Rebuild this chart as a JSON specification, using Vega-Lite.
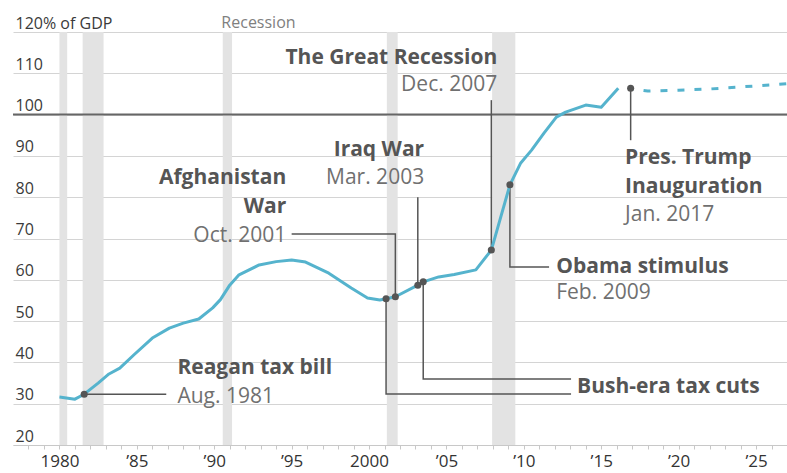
{
  "$schema": "https://vega.github.io/schema/vega-lite/v6.json",
  "width": 774,
  "height": 413,
  "autosize": {"type": "none"},
  "padding": {"left": 13, "top": 32, "right": 0, "bottom": 28},
  "background": "white",
  "config": {
    "view": {"stroke": null},
    "font": "Open Sans",
    "text": {"font": "Open Sans"}
  },
  "resolve": {"axis": {"x": "independent"}},
  "datasets": {
    "recessions": [
      {"start": 1980.0, "end": 1980.5},
      {"start": 1981.5, "end": 1982.85},
      {"start": 1990.55, "end": 1991.15},
      {"start": 2001.15, "end": 2001.85},
      {"start": 2007.95, "end": 2009.45}
    ],
    "debt": [
      {"year": 1980, "pct": 31.6}, {"year": 1981, "pct": 31.1}, {"year": 1981.6, "pct": 32.3},
      {"year": 1982.5, "pct": 35.0}, {"year": 1983.2, "pct": 37.2}, {"year": 1983.9, "pct": 38.6},
      {"year": 1984.8, "pct": 41.8}, {"year": 1986, "pct": 45.9}, {"year": 1987.1, "pct": 48.3},
      {"year": 1988, "pct": 49.5}, {"year": 1989, "pct": 50.5}, {"year": 1989.9, "pct": 53.2},
      {"year": 1990.4, "pct": 55.2}, {"year": 1991, "pct": 58.7}, {"year": 1991.6, "pct": 61.2},
      {"year": 1992.9, "pct": 63.6}, {"year": 1994, "pct": 64.4}, {"year": 1995, "pct": 64.8},
      {"year": 1995.9, "pct": 64.3}, {"year": 1997.4, "pct": 61.6}, {"year": 1998.85, "pct": 58.0},
      {"year": 1999.9, "pct": 55.6}, {"year": 2000.7, "pct": 55.1}, {"year": 2001.1, "pct": 55.4},
      {"year": 2001.7, "pct": 55.9}, {"year": 2003.15, "pct": 58.7}, {"year": 2003.5, "pct": 59.5},
      {"year": 2004.5, "pct": 60.7}, {"year": 2005.5, "pct": 61.3}, {"year": 2006.9, "pct": 62.4},
      {"year": 2007.9, "pct": 67.2}, {"year": 2009.1, "pct": 83.0}, {"year": 2009.8, "pct": 88.3},
      {"year": 2010.5, "pct": 91.4}, {"year": 2011.3, "pct": 95.5}, {"year": 2012.1, "pct": 99.4},
      {"year": 2012.7, "pct": 100.6}, {"year": 2014, "pct": 102.3}, {"year": 2015, "pct": 101.8},
      {"year": 2016.1, "pct": 106.4}
    ],
    "projection": [
      {"year": 2016.9, "pct": 106.3}, {"year": 2018, "pct": 105.7}, {"year": 2020, "pct": 105.9},
      {"year": 2022, "pct": 106.2}, {"year": 2024, "pct": 106.7}, {"year": 2026, "pct": 107.2},
      {"year": 2027, "pct": 107.5}
    ],
    "events": [
      {"event": "Reagan", "year": 1981.6, "pct": 32.3},
      {"event": "Bush 2001", "year": 2001.1, "pct": 55.4},
      {"event": "Afghanistan", "year": 2001.7, "pct": 55.9},
      {"event": "Iraq", "year": 2003.15, "pct": 58.7},
      {"event": "Bush 2003", "year": 2003.5, "pct": 59.5},
      {"event": "Great Recession", "year": 2007.9, "pct": 67.2},
      {"event": "Obama", "year": 2009.1, "pct": 83.0},
      {"event": "Trump", "year": 2016.9, "pct": 106.4}
    ],
    "leaders": [
      {"id": "reagan", "step": 1, "year": 1981.6, "pct": 32.3},
      {"id": "reagan", "step": 2, "year": 1986.9, "pct": 32.3},
      {"id": "bush1", "step": 1, "year": 2001.1, "pct": 55.4},
      {"id": "bush1", "step": 2, "year": 2001.1, "pct": 32.35},
      {"id": "bush1", "step": 3, "year": 2013.05, "pct": 32.35},
      {"id": "bush2", "step": 1, "year": 2003.5, "pct": 59.5},
      {"id": "bush2", "step": 2, "year": 2003.5, "pct": 36.0},
      {"id": "bush2", "step": 3, "year": 2013.05, "pct": 36.0},
      {"id": "afghan", "step": 1, "year": 1995.0, "pct": 71.1},
      {"id": "afghan", "step": 2, "year": 2001.7, "pct": 71.1},
      {"id": "afghan", "step": 3, "year": 2001.7, "pct": 55.9},
      {"id": "iraq", "step": 1, "year": 2003.15, "pct": 80.0},
      {"id": "iraq", "step": 2, "year": 2003.15, "pct": 58.7},
      {"id": "gr", "step": 1, "year": 2007.9, "pct": 103.5},
      {"id": "gr", "step": 2, "year": 2007.9, "pct": 67.2},
      {"id": "trump", "step": 1, "year": 2016.9, "pct": 106.4},
      {"id": "trump", "step": 2, "year": 2016.9, "pct": 93.8},
      {"id": "obama", "step": 1, "year": 2009.1, "pct": 83.0},
      {"id": "obama", "step": 2, "year": 2009.1, "pct": 63.1},
      {"id": "obama", "step": 3, "year": 2011.63, "pct": 63.1}
    ],
    "labels": [
      {"text": "Reagan tax bill", "kind": "bold", "side": "left", "year": 1987.62, "pct": 38.6},
      {"text": "Aug. 1981", "kind": "date", "side": "left", "year": 1987.62, "pct": 31.6},
      {"text": "Bush-era tax cuts", "kind": "bold", "side": "left", "year": 2013.44, "pct": 34.0},
      {"text": "Afghanistan", "kind": "bold", "side": "right", "year": 1994.65, "pct": 84.6},
      {"text": "War", "kind": "bold", "side": "right", "year": 1994.65, "pct": 77.6},
      {"text": "Oct. 2001", "kind": "date", "side": "right", "year": 1994.65, "pct": 70.6},
      {"text": "Iraq War", "kind": "bold", "side": "right", "year": 2003.56, "pct": 91.4},
      {"text": "Mar. 2003", "kind": "date", "side": "right", "year": 2003.56, "pct": 84.6},
      {"text": "The Great Recession", "kind": "bold", "side": "right", "year": 2008.28, "pct": 113.7},
      {"text": "Dec. 2007", "kind": "date", "side": "right", "year": 2008.28, "pct": 107.2},
      {"text": "Pres. Trump", "kind": "bold", "side": "left", "year": 2016.54, "pct": 89.5},
      {"text": "Inauguration", "kind": "bold", "side": "left", "year": 2016.54, "pct": 82.5},
      {"text": "Jan. 2017", "kind": "date", "side": "left", "year": 2016.54, "pct": 75.7},
      {"text": "Obama stimulus", "kind": "bold", "side": "left", "year": 2012.09, "pct": 63.1},
      {"text": "Feb. 2009", "kind": "date", "side": "left", "year": 2012.09, "pct": 56.8}
    ],
    "legend": [
      {"text": "Recession", "year": 1990.46, "pct": 122.2}
    ]
  },
  "layer": [
    {
      "data": {"name": "recessions"},
      "mark": {"type": "rect", "color": "#e3e3e3"},
      "encoding": {
        "x": {
          "field": "start", "type": "quantitative",
          "scale": {"domain": [1977, 2027], "nice": false, "zero": false},
          "axis": {
            "orient": "bottom",
            "title": null,
            "grid": false,
            "labels": false,
            "values": [1978,1979,1980,1981,1982,1983,1984,1985,1986,1987,1988,1989,1990,1991,1992,1993,1994,1995,1996,1997,1998,1999,2000,2001,2002,2003,2004,2005,2006,2007,2008,2009,2010,2011,2012,2013,2014,2015,2016,2017,2018,2019,2020,2021,2022,2023,2024,2025,2026,2027],
            "domainColor": "#c8c8c8",
            "domainWidth": 1,
            "tickColor": "#c8c8c8",
            "tickSize": 4,
            "tickWidth": 1
          }
        },
        "x2": {"field": "end"},
        "y": {"datum": 20, "type": "quantitative",
          "scale": {"domain": [20, 120], "nice": false, "zero": false},
          "axis": {
            "title": null,
            "values": [20, 30, 40, 50, 60, 70, 80, 90, 100, 110, 120],
            "labelExpr": "datum.value == 120 ? '120% of GDP' : datum.label",
            "grid": true,
            "gridColor": "#d4d4d4",
            "gridWidth": 1,
            "domain": false,
            "ticks": false,
            "tickSize": 0,
            "labelAlign": "left",
            "labelBaseline": "alphabetic",
            "labelPadding": -2,
            "labelOffset": -4,
            "labelFont": "Open Sans",
            "labelFontSize": 16,
            "labelColor": "#3a3a3a"
          }
        },
        "y2": {"datum": 120}
      }
    },
    {
      "data": {"values": [{"pct": 100}]},
      "mark": {"type": "rule", "color": "#666666", "strokeWidth": 2},
      "encoding": {"y": {"field": "pct", "type": "quantitative"}}
    },
    {
      "data": {"name": "leaders"},
      "mark": {"type": "line", "color": "#555555", "strokeWidth": 1.5, "interpolate": "linear"},
      "encoding": {
        "x": {"field": "year", "type": "quantitative", "axis": null},
        "y": {"field": "pct", "type": "quantitative"},
        "detail": {"field": "id"},
        "order": {"field": "step", "type": "quantitative"}
      }
    },
    {
      "data": {"name": "debt"},
      "mark": {"type": "line", "color": "#55b3cd", "strokeWidth": 3, "strokeJoin": "round"},
      "encoding": {
        "x": {
          "field": "year", "type": "quantitative",
          "axis": {
            "orient": "bottom",
            "title": null,
            "grid": false,
            "domain": false,
            "ticks": false,
            "tickSize": 0,
            "values": [1980, 1985, 1990, 1995, 2000, 2005, 2010, 2015, 2020, 2025],
            "labelExpr": "(datum.value == 1980 || datum.value == 2000) ? '' + datum.value : '’' + substring('' + datum.value, 2, 4)",
            "labelOverlap": false,
            "labelFlush": false,
            "labelFont": "Open Sans",
            "labelFontSize": 17,
            "labelColor": "#333333",
            "labelPadding": 8
          }
        },
        "y": {"field": "pct", "type": "quantitative"}
      }
    },
    {
      "data": {"name": "projection"},
      "mark": {"type": "line", "color": "#55b3cd", "strokeWidth": 3, "strokeDash": [7, 10], "strokeDashOffset": 4},
      "encoding": {
        "x": {"field": "year", "type": "quantitative", "axis": null},
        "y": {"field": "pct", "type": "quantitative"}
      }
    },
    {
      "data": {"name": "events"},
      "mark": {"type": "circle", "color": "#555555", "opacity": 1, "size": 50},
      "encoding": {
        "x": {"field": "year", "type": "quantitative", "axis": null},
        "y": {"field": "pct", "type": "quantitative"}
      }
    },
    {
      "data": {"name": "labels"},
      "transform": [{"filter": "datum.side == 'left' && datum.kind == 'bold'"}],
      "mark": {"type": "text", "align": "left", "baseline": "middle", "fontSize": 21, "fontWeight": "bold", "color": "#555555"},
      "encoding": {
        "x": {"field": "year", "type": "quantitative", "axis": null},
        "y": {"field": "pct", "type": "quantitative"},
        "text": {"field": "text"}
      }
    },
    {
      "data": {"name": "labels"},
      "transform": [{"filter": "datum.side == 'right' && datum.kind == 'bold'"}],
      "mark": {"type": "text", "align": "right", "baseline": "middle", "fontSize": 21, "fontWeight": "bold", "color": "#555555"},
      "encoding": {
        "x": {"field": "year", "type": "quantitative", "axis": null},
        "y": {"field": "pct", "type": "quantitative"},
        "text": {"field": "text"}
      }
    },
    {
      "data": {"name": "labels"},
      "transform": [{"filter": "datum.side == 'left' && datum.kind == 'date'"}],
      "mark": {"type": "text", "align": "left", "baseline": "middle", "fontSize": 21, "fontWeight": "normal", "color": "#707070"},
      "encoding": {
        "x": {"field": "year", "type": "quantitative", "axis": null},
        "y": {"field": "pct", "type": "quantitative"},
        "text": {"field": "text"}
      }
    },
    {
      "data": {"name": "labels"},
      "transform": [{"filter": "datum.side == 'right' && datum.kind == 'date'"}],
      "mark": {"type": "text", "align": "right", "baseline": "middle", "fontSize": 21, "fontWeight": "normal", "color": "#707070"},
      "encoding": {
        "x": {"field": "year", "type": "quantitative", "axis": null},
        "y": {"field": "pct", "type": "quantitative"},
        "text": {"field": "text"}
      }
    },
    {
      "data": {"name": "legend"},
      "mark": {"type": "text", "align": "left", "baseline": "middle", "fontSize": 16, "color": "#808080"},
      "encoding": {
        "x": {"field": "year", "type": "quantitative", "axis": null},
        "y": {"field": "pct", "type": "quantitative"},
        "text": {"field": "text"}
      }
    }
  ]
}
